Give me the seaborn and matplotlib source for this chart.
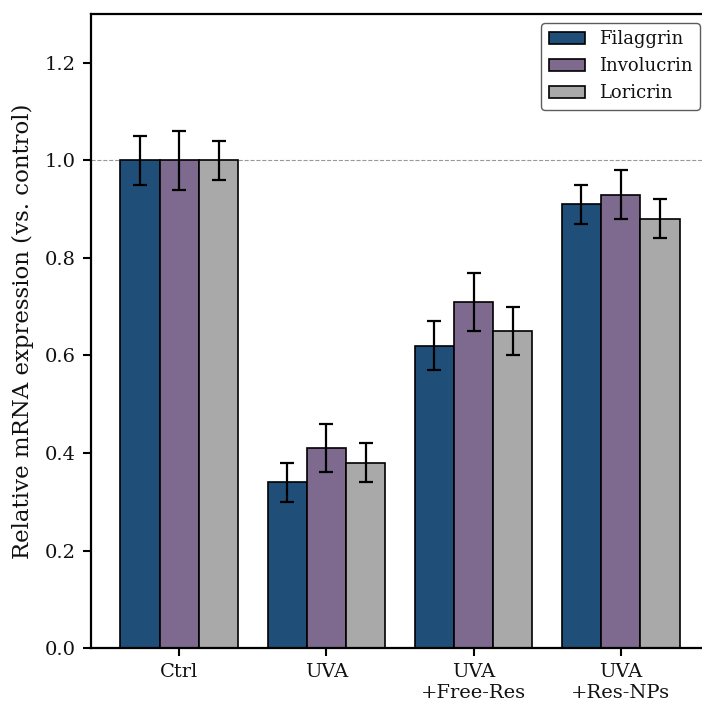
import numpy as np
import pandas as pd
import matplotlib
matplotlib.use("Agg")
import matplotlib.pyplot as plt
import seaborn as sns

groups = ["Ctrl", "UVA", "UVA\n+Free-Res", "UVA\n+Res-NPs"]
genes = ["Filaggrin", "Involucrin", "Loricrin"]
filaggrin = [1.00, 0.34, 0.62, 0.91]
involucrin = [1.00, 0.41, 0.71, 0.93]
loricrin = [1.00, 0.38, 0.65, 0.88]
filaggrin_err = [0.05, 0.04, 0.05, 0.04]
involucrin_err = [0.06, 0.05, 0.06, 0.05]
loricrin_err = [0.04, 0.04, 0.05, 0.04]
colors = ["#1f4e79", "#7e6a8e", "#a9a9a9"]

sns.set_style("ticks")
plt.rcParams["font.family"] = ["DejaVu Serif"]
plt.rcParams["axes.edgecolor"] = "black"
plt.rcParams["xtick.color"] = "black"
plt.rcParams["ytick.color"] = "black"
plt.rcParams["text.color"] = "#111111"
plt.rcParams["axes.labelcolor"] = "#111111"

vals = [filaggrin, involucrin, loricrin]
errs = [filaggrin_err, involucrin_err, loricrin_err]
rows = []
for g, v, e in zip(genes, vals, errs):
    for grp, vv, ee in zip(groups, v, e):
        rows.append({"group": grp, "gene": g, "value": vv, "err": ee})
df = pd.DataFrame(rows)

fig = plt.figure(figsize=(7.02, 7.04), dpi=100)
ax = fig.add_axes([0.1296, 0.0795, 0.8804, 0.9005])

sns.barplot(data=df, x="group", y="value", hue="gene", order=groups,
            hue_order=genes, palette=colors, width=0.8, saturation=1,
            errorbar=None, edgecolor="black", linewidth=1.2, ax=ax, legend=True)

# error bars aligned to bar centres
for gi, (g, e) in enumerate(zip(genes, errs)):
    cont = ax.containers[gi]
    xs = [p.get_x() + p.get_width() / 2 for p in cont.patches]
    ys = vals[gi]
    ax.errorbar(xs, ys, yerr=e, fmt="none", ecolor="black", elinewidth=1.6,
                capsize=5, capthick=1.6, zorder=5)

ax.axhline(1.0, color="gray", linestyle="--", linewidth=0.8, alpha=0.8, zorder=0)
ax.set_ylim(0, 1.3)
ax.set_xlim(-0.6, 3.6)
ax.set_yticks([0.0, 0.2, 0.4, 0.6, 0.8, 1.0, 1.2])
ax.set_xlabel("")
ax.set_ylabel("Relative mRNA expression (vs. control)", fontsize=16.5, labelpad=8)
ax.tick_params(axis="both", labelsize=14, length=6, width=1.5, pad=5,
               labelcolor="#111111")
for s in ax.spines.values():
    s.set_linewidth(1.6)
    s.set_color("black")

leg = ax.legend(loc="upper right", fontsize=13, frameon=True, fancybox=True,
                edgecolor="#333333", handlelength=2.0)
leg.get_frame().set_linewidth(1.0)

fig.savefig("out.png", dpi=100)
